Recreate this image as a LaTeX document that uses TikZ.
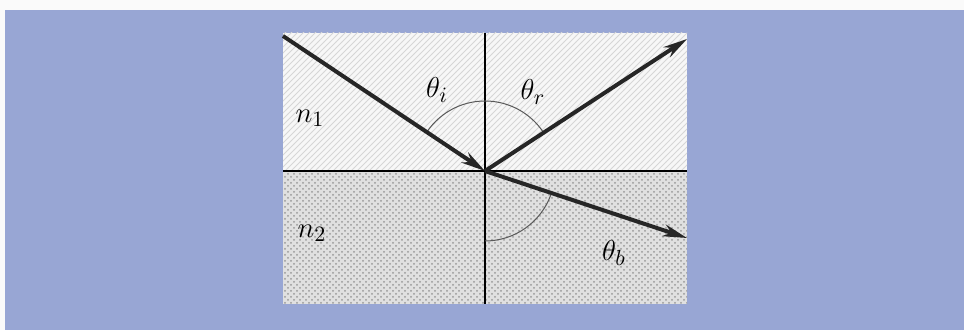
\documentclass[tikz,border=0pt]{standalone}
\usepackage{amsmath, amssymb}
\usepackage{tikz}
\usetikzlibrary{arrows.meta, patterns, calc}

\definecolor{panelblue}{RGB}{152,166,212}

\begin{document}
\begin{tikzpicture}[x=0.5pt, y=0.5pt, every node/.style={font=\fontsize{15}{18}\selectfont}]

			\useasboundingbox (0,0) rectangle (964,330);
			\fill[gray!4] (0,0) rectangle (964,330);
			\fill[panelblue] (5,0) rectangle (964,320);

			% Upper medium
			\fill[gray!6] (283,159) rectangle (687,297);
			\fill[pattern=north east lines, pattern color=gray!32] (283,159) rectangle (687,297);

			% Lower medium
			\fill[gray!24] (283,26) rectangle (687,159);
			\fill[pattern=crosshatch dots, pattern color=gray!80] (283,26) rectangle (687,159);

			% Interface and normal
			\coordinate (O) at (485,159);
			\coordinate (L) at (283,159);
			\coordinate (Rt) at (687,159);
			\coordinate (N1) at (485,297);
			\coordinate (N2) at (485,26);
			\draw[line width=1.4pt] (L) -- (Rt);
			\draw[line width=0.55pt] (N1) -- (N2);

			% Angle arcs
			\draw[gray!70!black, line width=0.5pt] (O) ++(146:70) arc[start angle=146, end angle=34, radius=70];
			\draw[gray!70!black, line width=0.5pt] (O) ++(270:70) arc[start angle=270, end angle=340, radius=70];

			% Rays
			\coordinate (A) at (283,294);
			\coordinate (R) at (687,291);
			\coordinate (T) at (687,92);
			\draw[-{Stealth[length=12pt, width=6pt]}, line width=2pt, black!85] (A) -- (O);
			\draw[-{Stealth[length=12pt, width=6pt]}, line width=2pt, black!85] (O) -- (R);
			\draw[-{Stealth[length=12pt, width=6pt]}, line width=2pt, black!85] (O) -- (T);

			% Labels
			\node (ni) at (310,212) {$n_1$};
			\node (nii) at (312,97) {$n_2$};
			\node (thi) at (437,240) {$\theta_i$};
			\node (thr) at (533,238) {$\theta_r$};
			\node (thb) at (614,77) {$\theta_b$};

		\end{tikzpicture}
\end{document}
